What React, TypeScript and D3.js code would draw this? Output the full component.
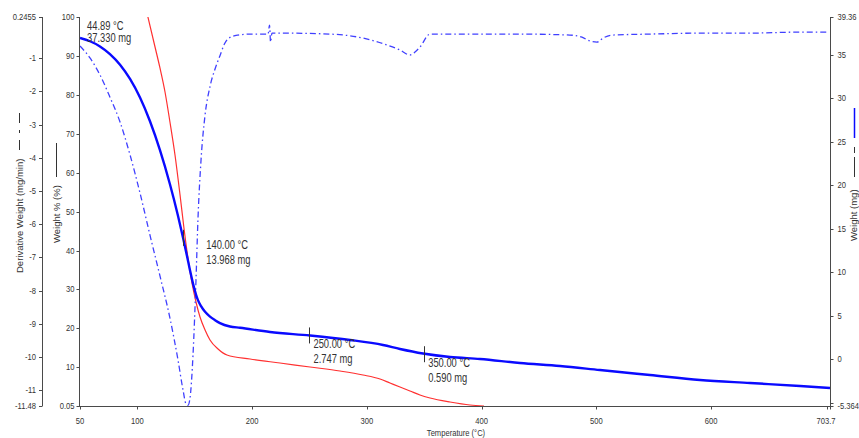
import React from "react";
import * as d3 from "d3";

// ---- data ----
const BLUE_TEMP = [50, 58.7, 67.4, 76.1, 84.9, 93.6, 102.3, 111.0, 119.7, 128.4, 135.4, 139.8, 143.3, 145.9, 148.5, 151.1, 152.8, 155.5, 159.0, 163.3, 167.7, 172.0, 180.7, 189.5, 215.6, 250.5, 285.3, 314.1, 328.9, 349.0, 372.5, 398.6, 433.5, 468.4, 503.2, 546.8, 590.4, 634.0, 677.6, 703.7];
const BLUE_MG = [36.95, 36.57, 35.98, 35.10, 33.88, 32.24, 30.10, 27.37, 24.05, 20.13, 16.51, 13.99, 11.85, 10.22, 8.71, 7.45, 6.81, 6.11, 5.46, 4.91, 4.50, 4.17, 3.78, 3.63, 3.14, 2.74, 2.23, 1.65, 1.19, 0.67, 0.27, 0.04, -0.42, -0.77, -1.23, -1.80, -2.37, -2.72, -3.06, -3.29];

const DER_TEMP = [50, 58.7, 67.4, 76.1, 84.9, 93.6, 102.3, 111.0, 119.7, 128.4, 135.4, 139.8, 142.4, 144.1, 145.9, 148.5, 151.1, 152.8, 155.5, 159.0, 163.3, 167.7, 172.0, 176.0, 180.7, 187.7, 198.2, 211.2, 213.9, 215.2, 216.1, 217.3, 224.3, 267.9, 296.7, 317.6, 328.9, 337.6, 342.0, 346.3, 355.1, 433.5, 477.1, 487.5, 494.5, 500.6, 505.8, 513.7, 546.8, 590.4, 634.0, 677.6, 702.8];
const DER_VAL = [-0.63, -0.99, -1.50, -2.17, -2.92, -3.91, -5.06, -6.33, -7.56, -8.83, -10.09, -11.0, -11.42, -11.46, -11.24, -9.94, -7.68, -5.87, -4.06, -2.71, -1.85, -1.32, -0.92, -0.56, -0.37, -0.30, -0.27, -0.27, -0.27, 0.0, -0.51, -0.24, -0.24, -0.27, -0.39, -0.60, -0.75, -0.90, -0.81, -0.66, -0.27, -0.27, -0.30, -0.36, -0.48, -0.51, -0.39, -0.30, -0.27, -0.24, -0.24, -0.21, -0.21];

const RED_TEMP = [106.7, 115.4, 119.7, 124.1, 128.4, 132.8, 137.2, 140.6, 144.1, 147.6, 151.1, 154.6, 159.0, 163.3, 170.3, 178.1, 198.2, 224.3, 250.5, 276.6, 296.7, 311.5, 320.2, 328.9, 337.6, 346.3, 355.1, 372.5, 389.9, 402.1];
const RED_PCT = [103.1, 92.29, 86.90, 80.73, 73.02, 64.54, 54.26, 45.79, 38.08, 31.65, 26.77, 22.92, 19.58, 17.01, 14.70, 13.15, 12.13, 11.10, 10.07, 9.04, 8.02, 6.99, 5.96, 4.93, 3.91, 2.88, 2.11, 1.08, 0.31, 0.05];

const X_TICKS = [50, 100, 200, 300, 400, 500, 600, 703.7];
const PCT_TICKS = [0.05, 10, 20, 30, 40, 50, 60, 70, 80, 90, 100];
const DER_TICKS = [0.2455, -1, -2, -3, -4, -5, -6, -7, -8, -9, -10, -11, -11.48];
const MG_TICKS = [39.36, 35, 30, 25, 20, 15, 10, 5, 0, -5.364];

const ANNOT_TEMP = [140, 250, 350];
const ANNOT_MG = [13.968, 2.747, 0.59];
const START_TEMP = 44.89;
const START_MG = 37.33;

const FONT = "'Liberation Sans', Arial, sans-serif";
const SX = 0.8;

function T({ x, y, size = 9.5, anchor = "start", children, fill = "#333", sx = SX }: any) {
  return (
    <text
      transform={`translate(${x},${y}) scale(${sx},1)`}
      fontSize={size}
      fontFamily={FONT}
      textAnchor={anchor}
      fill={fill}
    >
      {children}
    </text>
  );
}

function fmt(v: number) {
  return String(v);
}

export default function App() {
  const W = 859, H = 438;
  const x = d3.scaleLinear().domain([50, 703.7]).range([80, 830]);
  const yPct = d3.scaleLinear().domain([0.05, 100]).range([406, 17]);
  const yDer = d3.scaleLinear().domain([-11.48, 0.2455]).range([406, 17]);
  const yMg = d3.scaleLinear().domain([-5.364, 39.36]).range([406, 17]);

  const blue = d3.line<number>().x((_, i) => x(BLUE_TEMP[i])).y((d) => yMg(d)).curve(d3.curveMonotoneX)(BLUE_MG) || "";
  const der = d3.line<number>().x((_, i) => x(DER_TEMP[i])).y((d) => yDer(d)).curve(d3.curveMonotoneX)(DER_VAL) || "";
  const red = d3.line<number>().x((_, i) => x(RED_TEMP[i])).y((d) => yPct(d)).curve(d3.curveMonotoneX)(RED_PCT) || "";

  const axisColor = "#4a4a4a";
  const xDer = 42, xPct = 79.5, xR = 830.5, yB = 406.5;

  return (
    <svg width={W} height={H} style={{ position: "absolute", left: 0, top: 0, background: "#fff" }}>
      <defs>
        <clipPath id="plot">
          <rect x={80} y={17} width={750} height={389.5} />
        </clipPath>
      </defs>

      {/* curves */}
      <g clipPath="url(#plot)" fill="none">
        <path d={red} stroke="#ff3030" strokeWidth={1.2} />
        <path d={der} stroke="#4040ff" strokeWidth={1.3} strokeDasharray="6,3,1.5,3" />
        <path d={blue} stroke="#0a0aff" strokeWidth={2.4} />
      </g>

      {/* axes */}
      <g stroke={axisColor} strokeWidth={1} fill="none">
        <line x1={xDer + 0.5} y1={17} x2={xDer + 0.5} y2={406} />
        <line x1={xPct} y1={17} x2={xPct} y2={406} />
        <line x1={xR} y1={17} x2={xR} y2={406} />
        <line x1={79} y1={yB} x2={831} y2={yB} />
        {DER_TICKS.map((t) => (
          <line key={"dt" + t} x1={xDer - 3} x2={xDer + 0.5} y1={Math.round(yDer(t)) + 0.5} y2={Math.round(yDer(t)) + 0.5} />
        ))}
        {PCT_TICKS.map((t) => (
          <line key={"pt" + t} x1={xPct - 3} x2={xPct} y1={Math.round(yPct(t)) + 0.5} y2={Math.round(yPct(t)) + 0.5} />
        ))}
        {MG_TICKS.map((t) => (
          <line key={"mt" + t} x1={xR} x2={xR + 3} y1={Math.round(yMg(t)) + 0.5} y2={Math.round(yMg(t)) + 0.5} />
        ))}
        {X_TICKS.map((t) => (
          <line key={"xt" + t} x1={Math.round(x(t)) + 0.5} x2={Math.round(x(t)) + 0.5} y1={yB} y2={yB + 3} />
        ))}
        <line x1={827.5} x2={827.5} y1={yB} y2={yB + 3} />
        <line x1={xR} x2={xR + 3} y1={403.5} y2={403.5} />
      </g>

      {/* tick labels */}
      {DER_TICKS.map((t) => (
        <T key={"dl" + t} x={36} y={yDer(t) + 3} anchor="end">{fmt(t)}</T>
      ))}
      {PCT_TICKS.map((t) => (
        <T key={"pl" + t} x={74.5} y={yPct(t) + 3} anchor="end">{fmt(t)}</T>
      ))}
      {MG_TICKS.map((t) => (
        <T key={"ml" + t} x={837.5} y={yMg(t) + 3}>{fmt(t)}</T>
      ))}
      {X_TICKS.map((t) => (
        <T key={"xl" + t} x={t === 703.7 ? x(t) - 4 : x(t)} y={424} anchor="middle">{fmt(t)}</T>
      ))}
      <T x={456} y={436} anchor="middle" fill="#333">Temperature (°C)</T>

      {/* left axis titles with legend keys */}
      <g transform="translate(23,273) rotate(-90)">
        <text fontSize={9.5} fontFamily={FONT} fill="#333">Derivative Weight (mg/min)</text>
      </g>
      <g stroke="#333" strokeWidth={1}>
        <line x1={19.5} x2={19.5} y1={113} y2={123} />
        <line x1={19.5} x2={19.5} y1={130} y2={133} />
        <line x1={19.5} x2={19.5} y1={140} y2={150} />
        <line x1={56.5} x2={56.5} y1={143} y2={177} />
        <line x1={854.5} x2={854.5} y1={147} y2={153} />
        <line x1={854.5} x2={854.5} y1={157} y2={177} />
      </g>
      <g transform="translate(60,243) rotate(-90)">
        <text fontSize={9.5} fontFamily={FONT} fill="#333">Weight % (%)</text>
      </g>
      <line x1={854.5} x2={854.5} y1={108} y2={138} stroke="#0a0aff" strokeWidth={1.5} />
      <g transform="translate(856.5,241) rotate(-90)">
        <text fontSize={9.5} fontFamily={FONT} fill="#333">Weight (mg)</text>
      </g>

      {/* annotations */}
      <T x={x(50) + 7} y={30} size={12} sx={0.78}>{`${START_TEMP.toFixed(2)} °C`}</T>
      <T x={x(50) + 7} y={42} size={12} sx={0.78}>{`${START_MG.toFixed(3)} mg`}</T>
      {ANNOT_TEMP.map((t, i) => {
        const px = x(t), py = yMg(ANNOT_MG[i]);
        const dx = i === 0 ? 23 : 4;
        const dy = i === 0 ? 11 : 13;
        return (
          <g key={"an" + t}>
            <line x1={Math.round(px) + 0.5} x2={Math.round(px) + 0.5} y1={py - 8} y2={py + 8} stroke="#333" strokeWidth={1} />
            <T x={px + dx} y={py + dy} size={12} sx={0.78}>{`${t.toFixed(2)} °C`}</T>
            <T x={px + dx} y={py + dy + 15} size={12} sx={0.78}>{`${ANNOT_MG[i].toFixed(3)} mg`}</T>
          </g>
        );
      })}
    </svg>
  );
}
